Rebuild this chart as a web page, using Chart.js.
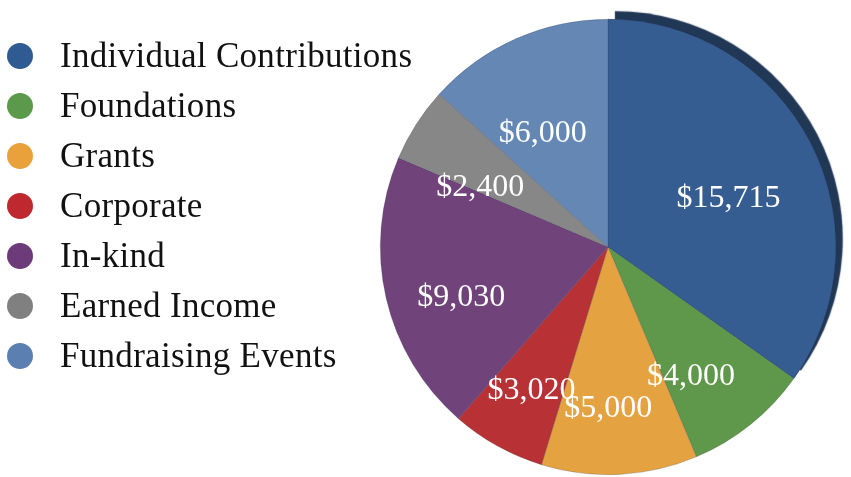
<!DOCTYPE html>
<html>
<head>
<meta charset="utf-8">
<script src="https://cdn.jsdelivr.net/npm/chart.js@4"></script>
<style>
  html, body { margin: 0; padding: 0; background: #fff; }
  #wrap { position: relative; width: 851px; height: 477px; }
  #chart { position: absolute; left: 0; top: 0; }
  #legend { position: absolute; left: 0; top: 0; font-family: "Liberation Serif", serif; font-size: 35px; letter-spacing: 0.3px; color: #111; }
  .item { position: absolute; left: 7px; height: 30px; display: flex; align-items: center; white-space: nowrap; }
  .dot { width: 26px; height: 26px; border-radius: 50%; margin-right: 27px; }
</style>
</head>
<body>
<div id="wrap">
  <canvas id="chart" width="851" height="477"></canvas>
  <div id="legend"></div>
</div>
<script>
// revenue sources
const categories = ['Individual Contributions', 'Foundations', 'Grants', 'Corporate', 'In-kind', 'Earned Income', 'Fundraising Events'];
const amounts = [15715, 4000, 5000, 3020, 9030, 2400, 6000];
const sliceColors = ['#365d92', '#5f984a', '#e4a240', '#b83134', '#71437b', '#878787', '#6587b4'];
const dotColors = ['#2f5a92', '#5b9a4a', '#e9a23b', '#c0282f', '#6d3b7a', '#808080', '#5a7fb0'];

// html legend on the left
const legend = document.getElementById('legend');
categories.forEach((name, i) => {
    const row = document.createElement('div');
    row.className = 'item';
    row.style.top = (41 + i * 50) + 'px';
    row.innerHTML = '<span class="dot" style="background:' + dotColors[i] + '"></span><span>' + name + '</span>';
    legend.appendChild(row);
});

const money = v => '$' + v.toLocaleString('en-US');

// dark rim behind the first slice, like the 3d bevel in the original
const sliceRim = {
    id: 'sliceRim',
    beforeDatasetsDraw(chart) {
        const arc = chart.getDatasetMeta(0).data[0];
        if (!arc) return;
        const ctx = chart.ctx;
        ctx.save();
        ctx.shadowColor = '#213756';
        ctx.shadowOffsetX = 7;
        ctx.shadowOffsetY = -8;
        ctx.shadowBlur = 1;
        arc.draw(ctx);
        ctx.restore();
    }
};

// draw the dollar amounts inside each slice
const sliceLabels = {
    id: 'sliceLabels',
    afterDatasetsDraw(chart) {
        const ctx = chart.ctx;
        const meta = chart.getDatasetMeta(0);
        ctx.save();
        ctx.font = '32px "Liberation Serif", serif';
        ctx.fillStyle = '#fff';
        ctx.textAlign = 'center';
        ctx.textBaseline = 'middle';
        meta.data.forEach((arc, i) => {
            const p = arc.getProps(['x', 'y', 'startAngle', 'endAngle', 'outerRadius'], true);
            const mid = (p.startAngle + p.endAngle) / 2;
            const r = p.outerRadius * 0.63;
            // the original's slices meet a little below and left of the rim's centre
            ctx.fillText(money(amounts[i]), p.x - 7 + Math.cos(mid) * r, p.y + 18 + Math.sin(mid) * r);
        });
        ctx.restore();
    }
};

const ctx = document.getElementById('chart').getContext('2d');
new Chart(ctx, {
    type: 'pie',
    data: {
        labels: categories,
        datasets: [{
            data: amounts,
            backgroundColor: sliceColors,
            borderColor: 'rgba(40,50,70,0.35)',
            borderWidth: 0.6,
            hoverOffset: 0
        }]
    },
    options: {
        responsive: false,
        animation: false,
        layout: { padding: { left: 380, right: 15, top: 19, bottom: 2 } },
        plugins: {
            legend: { display: false },
            tooltip: { enabled: false }
        }
    },
    plugins: [sliceRim, sliceLabels]
});
</script>
</body>
</html>
